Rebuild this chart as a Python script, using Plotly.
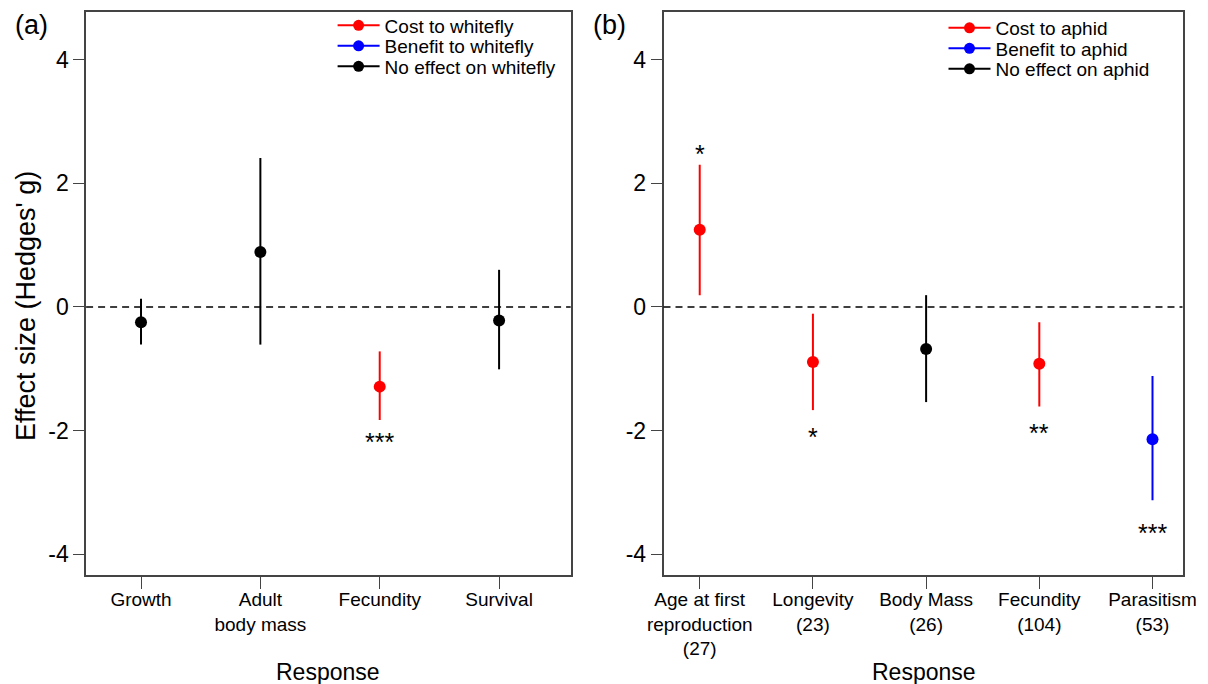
import plotly.graph_objects as go

# ---------------- data ----------------
cats_a = ["Growth", "Adult<br>body mass", "Fecundity", "Survival"]
est_a = [-0.25, 0.89, -1.29, -0.22]
lo_a = [-0.61, -0.61, -1.83, -1.01]
hi_a = [0.13, 2.41, -0.72, 0.60]
effect_a = ["none", "none", "cost", "none"]
sig_a = ["", "", "***", ""]
sig_y_a = [None, None, -2.07, None]

cats_b = ["Age at first<br>reproduction<br>(27)", "Longevity<br>(23)", "Body Mass<br>(26)",
          "Fecundity<br>(104)", "Parasitism<br>(53)"]
est_b = [1.25, -0.89, -0.68, -0.92, -2.14]
lo_b = [0.19, -1.67, -1.54, -1.61, -3.13]
hi_b = [2.30, -0.11, 0.19, -0.25, -1.12]
effect_b = ["cost", "cost", "none", "cost", "benefit"]
sig_b = ["*", "*", "", "**", "***"]
sig_y_b = [2.58, -1.99, None, -1.93, -3.54]

legend_a = ["Cost to whitefly", "Benefit to whitefly", "No effect on whitefly"]
legend_b = ["Cost to aphid", "Benefit to aphid", "No effect on aphid"]
effect_keys = ["cost", "benefit", "none"]
colors = {"cost": "#FF0000", "benefit": "#0000FF", "none": "#000000"}

yticks = [-4, -2, 0, 2, 4]

FONT = "Liberation Sans, Arial, sans-serif"
AXCOL = "#444444"
# the page puts the figure 8px from the top-left corner of the window
OFF = 8
W, H = 1208 - OFF, 684 - OFF


def fx(px):
    return (px - OFF) / W


def fy(py):
    return 1 - (py - OFF) / H


fig = go.Figure()


def add_panel(cats, est, lo, hi, effect, xref, yref):
    for i, (e, l, h, ef) in enumerate(zip(est, lo, hi, effect)):
        fig.add_trace(go.Scatter(
            x=[i + 1], y=[e], mode="markers",
            marker=dict(color=colors[ef], size=12),
            error_y=dict(type="data", symmetric=False, array=[h - e], arrayminus=[e - l],
                         color=colors[ef], thickness=2, width=0),
            showlegend=False, xaxis=xref, yaxis=yref, hoverinfo="skip"))


add_panel(cats_a, est_a, lo_a, hi_a, effect_a, "x", "y")
add_panel(cats_b, est_b, lo_b, hi_b, effect_b, "x2", "y2")

# legend entries: one legend per row so the rows sit as tightly as in the reference
legend_rows_a = [25.5, 46, 66.5]
legend_rows_b = [28, 48.5, 69]
legend_layout = {}
k = 0
for names, xr, yr, rows, lx in [(legend_a, "x", "y", legend_rows_a, 324.6),
                                (legend_b, "x2", "y2", legend_rows_b, 935.5)]:
    for name, key, ry in zip(names, effect_keys, rows):
        k += 1
        lname = "legend" if k == 1 else f"legend{k}"
        fig.add_trace(go.Scatter(x=[None], y=[None], mode="lines+markers", name=name,
                                 line=dict(color=colors[key], width=2),
                                 marker=dict(color=colors[key], size=11),
                                 legend=lname, xaxis=xr, yaxis=yr))
        legend_layout[lname] = dict(x=lx / W, y=fy(ry), xanchor="left", yanchor="middle",
                                    bgcolor="rgba(0,0,0,0)", font=dict(size=19, family=FONT),
                                    itemwidth=42, borderwidth=0)

# significance stars
for cats, sig, sy, xr, yr in [(cats_a, sig_a, sig_y_a, "x", "y"), (cats_b, sig_b, sig_y_b, "x2", "y2")]:
    for i, (s, y) in enumerate(zip(sig, sy)):
        if s:
            fig.add_annotation(x=i + 1, y=y, xref=xr, yref=yr, text=s, showarrow=False,
                               font=dict(size=25, color="black", family=FONT),
                               xanchor="center", yanchor="middle", yshift=-7)

# dashed zero lines
for xr, yr in [("x domain", "y"), ("x2 domain", "y2")]:
    fig.add_shape(type="line", xref=xr, yref=yr, x0=0, x1=1, y0=0, y1=0,
                  line=dict(color="black", width=1.5, dash="7px,5px"))

ydom = [fy(574.5), fy(11.5)]
yrange = [-4.33, 4.78]
common_y = dict(range=yrange, tickvals=yticks, ticktext=[str(v) for v in yticks],
                showline=True, linecolor=AXCOL, linewidth=1.5, mirror=True,
                ticks="outside", ticklen=11, tickwidth=1.3, tickcolor=AXCOL,
                showgrid=False, zeroline=False, domain=ydom, automargin=False,
                tickfont=dict(size=23, color="black", family=FONT))
common_x = dict(showline=True, linecolor=AXCOL, linewidth=1.5, mirror=True,
                ticks="outside", ticklen=13, tickwidth=1.3, tickcolor=AXCOL,
                showgrid=False, zeroline=False, automargin=False, ticklabelstandoff=-6,
                tickfont=dict(size=19, color="black", family=FONT))

fig.update_layout(
    width=W, height=H,
    margin=dict(l=0, r=0, t=0, b=0, autoexpand=False),
    paper_bgcolor="white", plot_bgcolor="white",
    font=dict(family=FONT, color="black"),
    xaxis=dict(domain=[fx(86.1), fx(570.7)], range=[0.54, 4.6],
               tickvals=list(range(1, len(cats_a) + 1)), ticktext=cats_a, **common_x),
    yaxis=dict(anchor="x", **common_y),
    xaxis2=dict(domain=[fx(663.5), fx(1182.5)], range=[0.68, 5.265],
                tickvals=list(range(1, len(cats_b) + 1)), ticktext=cats_b, **common_x),
    yaxis2=dict(anchor="x2", **common_y),
    showlegend=True,
    **legend_layout,
)

# axis titles and panel labels (positions in reference pixels)
paper_texts = [
    ("Response", 328, 672, 23, 0),
    ("Response", 924, 672, 23, 0),
    ("Effect size (Hedges' g)", 26, 306, 27, -90),
    ("(a)", 31, 25, 27, 0),
    ("(b)", 609, 25, 27, 0),
]
for txt, px, py, fs, ang in paper_texts:
    fig.add_annotation(text=txt, x=fx(px), y=fy(py), xref="paper", yref="paper",
                       xanchor="center", yanchor="middle",
                       textangle=ang, showarrow=False, font=dict(size=fs, family=FONT))

fig.write_html("out.html")
